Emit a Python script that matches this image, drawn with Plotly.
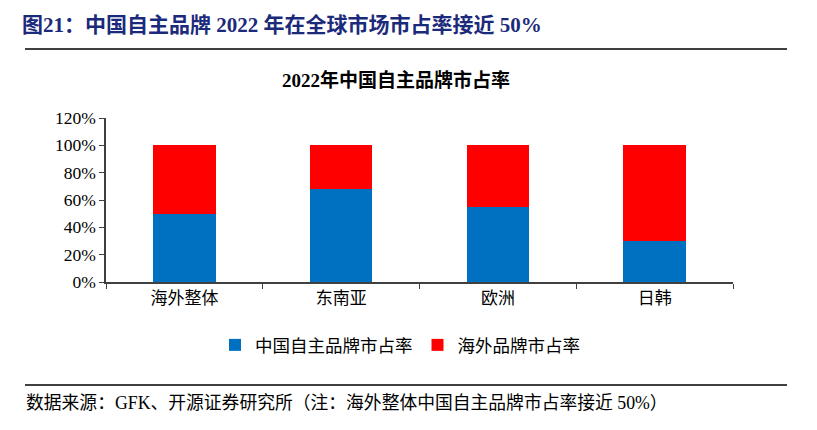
import plotly.graph_objects as go

categories = ["海外整体", "东南亚", "欧洲", "日韩"]
china_share = [0.50, 0.68, 0.55, 0.30]
foreign_share = [0.50, 0.32, 0.45, 0.70]
y_ticks = [0, 0.2, 0.4, 0.6, 0.8, 1.0, 1.2]

FONT = "Liberation Serif, 'Noto Sans CJK SC', serif"

OFF = 8  # page body margin offset
W, H = 817, 430
L, R, T, B = 106 - OFF, 84 + OFF, 118 - OFF, 148 + OFF
pw, ph = W - L - R, H - T - B

def px(x):
    return (x - OFF - L) / pw

def py(y):
    return (H - B - (y - OFF)) / ph

fig = go.Figure()
fig.add_trace(go.Bar(x=categories, y=china_share, name="中国自主品牌市占率",
                     marker=dict(color="#0070C0", line=dict(width=0)), width=0.4))
fig.add_trace(go.Bar(x=categories, y=foreign_share, name="海外品牌市占率",
                     marker=dict(color="#FF0000", line=dict(width=0)), width=0.4))

fig.update_layout(
    barmode="stack",
    width=W, height=H,
    margin=dict(l=L, r=R, t=T, b=B),
    paper_bgcolor="white", plot_bgcolor="white",
    font=dict(family=FONT, size=17, color="black"),
    showlegend=True,
    legend=dict(orientation="h", x=px(400), xanchor="center", y=py(345), yanchor="middle",
                font=dict(size=17.5), itemwidth=30, tracegroupgap=0, traceorder="normal"),
    xaxis=dict(showline=True, linecolor="#404040", linewidth=1.5, ticks="outside",
               tickson="boundaries", ticklen=5, tickcolor="#404040",
               tickfont=dict(size=17), showgrid=False),
    yaxis=dict(range=[0, 1.2], tickvals=y_ticks, tickformat=".0%", showline=True,
               linecolor="#404040", linewidth=1.5, ticks="outside", ticklen=5,
               tickcolor="#404040", tickfont=dict(size=17.5), showgrid=False, zeroline=False),
)

fig.add_annotation(text="<b>图21：中国自主品牌 2022 年在全球市场市占率接近 50%</b>",
                   xref="paper", yref="paper", x=px(20), y=py(25), xanchor="left", yanchor="middle",
                   showarrow=False, font=dict(size=21, color="#1B2A7A", family=FONT))
fig.add_annotation(text="<b>2022年中国自主品牌市占率</b>",
                   xref="paper", yref="paper", x=px(396), y=py(80), xanchor="center", yanchor="middle",
                   showarrow=False, font=dict(size=19, color="black", family=FONT))
fig.add_annotation(text="数据来源：GFK、开源证券研究所（注：海外整体中国自主品牌市占率接近 50%）",
                   xref="paper", yref="paper", x=px(24), y=py(403), xanchor="left", yanchor="middle",
                   showarrow=False, font=dict(size=17.8, color="black", family=FONT))

fig.add_shape(type="line", xref="paper", yref="paper", x0=px(25), x1=px(787), y0=py(49), y1=py(49),
              line=dict(color="black", width=1.5))
fig.add_shape(type="line", xref="paper", yref="paper", x0=px(25), x1=px(787), y0=py(385), y1=py(385),
              line=dict(color="black", width=1.5))

fig.write_html("out.html")
